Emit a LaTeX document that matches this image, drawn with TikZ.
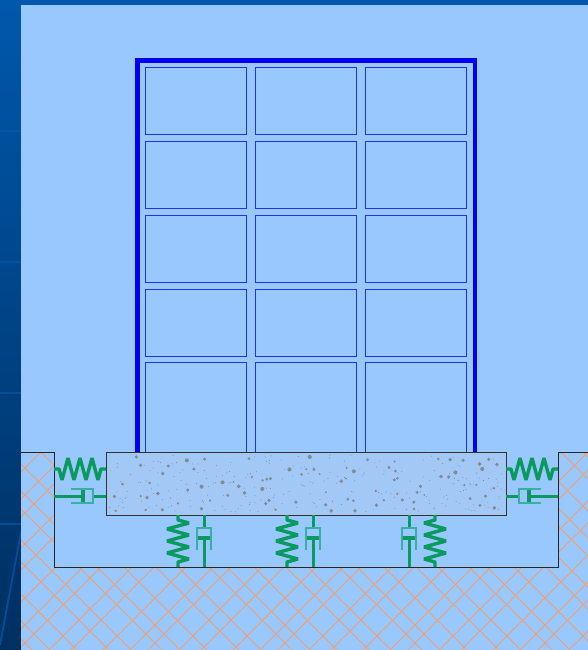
\documentclass[tikz,border=0pt]{standalone}
\usetikzlibrary{decorations.pathmorphing}
\definecolor{panelblue}{HTML}{99C8FF}
\definecolor{stripblue}{HTML}{0058AC}
\definecolor{stripdark}{HTML}{002F60}
\definecolor{framecol}{HTML}{0000F0}
\definecolor{windowcol}{HTML}{2230F0}
\definecolor{slabcol}{HTML}{A2C8F6}
\definecolor{speckcol}{HTML}{858A94}
\definecolor{hatchcol}{HTML}{F0A070}
\definecolor{springcol}{HTML}{0A9A60}
\definecolor{cylcol}{HTML}{38AFA0}
\tikzset{%
  spring/.style={draw=springcol, line width=3.4pt, line join=bevel,
                 decoration={zigzag, segment length=12pt, amplitude=#1, pre length=5pt, post length=5pt},
                 decorate},
  spring/.default=11pt,
  rod/.style={draw=springcol, line width=3pt},
  piston/.style={draw=springcol, line width=4pt},
  cyl/.style={draw=cylcol, line width=1.2pt},
  hatch/.style={draw=hatchcol, line width=0.9pt},
  window/.style={draw=windowcol, line width=0.9pt},
}

\begin{document}
\begin{tikzpicture}[x=1pt, y=-1pt]
    \useasboundingbox (0,0) rectangle (588,650);

    %background
    \shade[top color=stripblue, bottom color=stripdark] (0,0) rectangle (21,650);
    \fill[stripblue] (0,0) rectangle (588,5);
    \foreach \y in {131,262,393,524}
      \draw[stripblue, opacity=0.7, line width=1.5pt] (0,\y) -- (21,\y);
    \coordinate (R1) at (21,532);
    \coordinate (R2) at (0,645);
    \draw[stripblue!90!black, line width=1.8pt] (R1) -- (R2);
    \fill[panelblue] (21,5) rectangle (588,650);

    %ground hatching
    \begin{scope}
      \clip (21,452) -- (54,452) -- (54,567) -- (558,567) -- (558,452) -- (588,452) -- (588,650) -- (21,650) -- cycle;
      \foreach \c in {0,130,...,1300}
        \foreach \o in {0,18,49,71,103} {
          \draw[hatch] (0,\c+\o) -- (\c+\o,0);
          \draw[hatch] (0,\c+\o-700) -- (1400,\c+\o+700);
        }
    \end{scope}
    \draw[black!85, line width=1pt] (21,452) -- (54,452) -- (54,567) -- (558,567) -- (558,452) -- (588,452);

    %building frame
    \draw[framecol, line width=4.4pt] (137.5,452) -- (137.5,60.5) -- (475,60.5) -- (475,452);
    \foreach \x in {145.5,255.5,365.5} {
      \foreach \y in {67,141,215,289}
        \draw[window] (\x,\y) rectangle ++(101,67);
      \draw[window] (\x,452) -- (\x,362) -- ++(101,0) -- ++(0,90);
    }

    %foundation slab
    \coordinate (SA) at (106,452);
    \coordinate (SB) at (506,515);
    \fill[slabcol] (SA) rectangle (SB);
    \pgfmathsetseed{731}
    \foreach \i in {1,...,240} {
      \pgfmathsetmacro\px{109+394*rnd}
      \pgfmathsetmacro\py{455+57*rnd}
      \fill[speckcol] (\px,\py) circle (0.5pt);
    }
    \foreach \i in {1,...,85} {
      \pgfmathsetmacro\px{111+390*rnd}
      \pgfmathsetmacro\py{456+55*rnd}
      \pgfmathsetmacro\pr{1+1.1*rnd}
      \fill[speckcol] (\px,\py) circle (\pr pt);
    }
    \draw[black!80, line width=1pt] (SA) rectangle (SB);

    %side supports
    \coordinate (LW) at (54,469);
    \coordinate (LS) at (106,469);
    \coordinate (RS) at (506,469);
    \coordinate (RW) at (558,469);
    \draw[spring=-11pt] (LW) -- (LS);
    \draw[spring=-11pt] (RS) -- (RW);

    \coordinate (LD) at (54,496);
    \coordinate (LE) at (106,496);
    \coordinate (LP) at (83,496);
    \coordinate (LC) at (93,496);
    \draw[rod] (LD) -- (LP);
    \draw[rod] (LC) -- (LE);
    \draw[piston] (83,488) -- (83,504);
    \draw[cyl] (71,489) -- (93,489) -- (93,503) -- (71,503);

    \coordinate (RE) at (506,496);
    \coordinate (RD) at (558,496);
    \coordinate (RP) at (529,496);
    \coordinate (RC) at (519,496);
    \draw[rod] (RE) -- (RC);
    \draw[rod] (RP) -- (RD);
    \draw[piston] (529,488) -- (529,504);
    \draw[cyl] (541,489) -- (519,489) -- (519,503) -- (541,503);

    %bottom supports
    \foreach \s/\d/\a in {178/204/11pt,287/313/11pt,435/409/-11pt} {
      \coordinate (ST\s) at (\s,515);
      \coordinate (SB\s) at (\s,567);
      \draw[spring=\a] (ST\s) -- (SB\s);
      \coordinate (DT\d) at (\d,515);
      \coordinate (DC\d) at (\d,528);
      \coordinate (DP\d) at (\d,538);
      \coordinate (DB\d) at (\d,567);
      \draw[rod] (DT\d) -- (DC\d);
      \draw[rod] (DP\d) -- (DB\d);
      \draw[piston] (\d-7.5,538) -- (\d+7.5,538);
      \draw[cyl] (\d-7,550) -- (\d-7,528) -- (\d+7,528) -- (\d+7,550);
    }
\end{tikzpicture}
\end{document}
